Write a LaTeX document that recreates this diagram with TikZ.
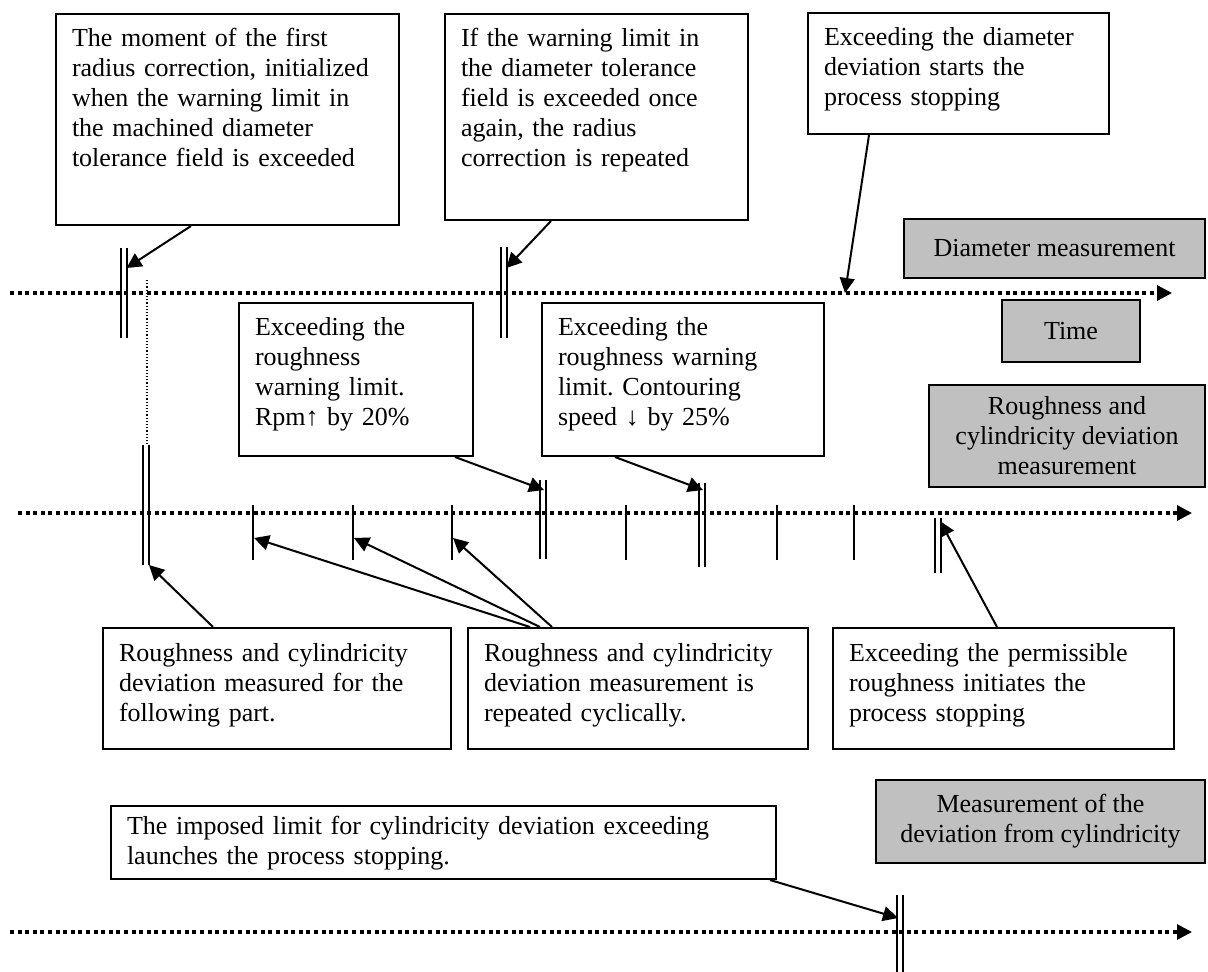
\documentclass[tikz,border=0pt]{standalone}
\usepackage{fontspec}
\setmainfont{Liberation Serif}
\usetikzlibrary{arrows.meta}
\definecolor{tagfill}{RGB}{192,192,192}
\frenchspacing

\begin{document}
\begin{tikzpicture}[>={Triangle[length=7.5pt,width=7.5pt]}, x=0.5pt, y=-0.5pt, line width=1pt,
    every node/.style={font=\fontsize{13}{15}\selectfont},
    note/.style={draw, fill=white, align=left, inner xsep=8pt, inner ysep=3pt, text height=13.5pt},
    tag/.style={draw, fill=tagfill, align=center, inner sep=0pt},
    timeline/.style={->, line width=1.6pt, dash pattern=on 2pt off 1.8pt},
    dbar/.style={double, double distance=2pt}]

    \useasboundingbox (0,0) rectangle (1208,972);

    % Marks on the three time axes (drawn first, axes go over them)
    \draw[dbar] (123.5,248) -- (123.5,338);
    \draw[dbar] (503.5,247) -- (503.5,338);
    \draw[densely dotted, line width=0.6pt] (147,280) -- (147,445);

    \draw[dbar] (146,445) -- (146,565);
    \foreach \x in {253,353,452,626,777,854}
        \draw (\x,505) -- (\x,560);
    \draw[dbar] (542.5,480) -- (542.5,559);
    \draw[dbar] (702,483) -- (702,567);
    \draw[dbar] (937.5,518) -- (937.5,573);

    \draw[dbar] (899.5,895) -- (899.5,972);

    % Arrow ends on the marks
    \coordinate (dA) at (126.5,268);
    \coordinate (dB) at (506.5,268);
    \coordinate (dStop) at (845,293);
    \coordinate (rA) at (149,565);
    \coordinate (rB) at (544,490);
    \coordinate (rC) at (703,490);
    \coordinate (rD) at (940,521);
    \coordinate (s1) at (254,538);
    \coordinate (s2) at (354,538);
    \coordinate (s3) at (453,538);
    \coordinate (cA) at (898,918);
    \coordinate (dEnd) at (1172,293);
    \coordinate (rEnd) at (1192,513);
    \coordinate (cEnd) at (1192,932);

    % Time axes
    \coordinate (dStart) at (10,293);
    \coordinate (rStart) at (18,513);
    \coordinate (cStart) at (10,932);
    \draw[timeline] (dStart) -- (dEnd);
    \draw[timeline] (rStart) -- (rEnd);
    \draw[timeline] (cStart) -- (cEnd);

    % Notes
    \node[note, anchor=north west, text width=155.5pt, text depth=86pt] at (55,13) (n1) {The moment of the first\\radius correction, initialized\\when the warning limit in\\the machined diameter\\tolerance field is exceeded};
    \node[note, anchor=north west, text width=135.5pt, text depth=83.5pt] at (444,13) (n2) {If the warning limit in\\the diameter tolerance\\field is exceeded once\\again, the radius\\correction is repeated};
    \node[note, anchor=north west, text width=134.5pt, text depth=41pt] at (807,12) (n3) {Exceeding the diameter\\deviation starts the\\process stopping};
    \node[note, anchor=north west, text width=101pt, text depth=57pt] at (238,302) (n4) {Exceeding the\\roughness\\warning limit.\\Rpm↑ by 20\%};
    \node[note, anchor=north west, text width=125pt, text depth=57pt] at (541,302) (n5) {Exceeding the\\roughness warning\\limit. Contouring\\speed ↓ by 25\%};
    \node[note, anchor=north west, text width=158pt, text depth=41pt] at (102,627) (n6) {Roughness and cylindricity\\deviation measured for the\\following part.};
    \node[note, anchor=north west, text width=154pt, text depth=41pt] at (467,627) (n7) {Roughness and cylindricity\\deviation measurement is\\repeated cyclically.};
    \node[note, anchor=north west, text width=154.5pt, text depth=41pt] at (832,627) (n8) {Exceeding the permissible\\roughness initiates the\\process stopping};
    \node[note, anchor=north west, text width=316.5pt, text height=11pt, text depth=19.5pt] at (110,805) (n9) {The imposed limit for cylindricity deviation exceeding\\launches the process stopping.};

    % Axis names
    \node[tag, minimum width=150.5pt, minimum height=29.5pt] at (1054.5,248.5) (dia) {Diameter measurement};
    \node[tag, minimum width=69pt, minimum height=31pt] at (1071,331) (time) {Time};
    \node[tag, minimum width=138pt, minimum height=51pt] at (1067,436) (rough) {Roughness and\\cylindricity deviation\\measurement};
    \node[tag, minimum width=164.5pt, minimum height=41.5pt] at (1040.5,821.5) (cyl) {Measurement of the\\deviation from cylindricity};

    % Arrows
    \draw[->] ([xshift=68pt]n1.south west) -- (dA);
    \draw[->] ([xshift=53.5pt]n2.south west) -- (dB);
    \draw[->] ([xshift=31pt]n3.south west) -- (dStop);
    \draw[->] ([xshift=108.5pt]n4.south west) -- (rB);
    \draw[->] ([xshift=37pt]n5.south west) -- (rC);
    \draw[->] ([xshift=55.5pt]n6.north west) -- (rA);
    \draw[->] ([xshift=31.5pt]n7.north west) -- (s1);
    \draw[->] ([xshift=36.5pt]n7.north west) -- (s2);
    \draw[->] ([xshift=42.5pt]n7.north west) -- (s3);
    \draw[->] ([xshift=82.5pt]n8.north west) -- (rD);
    \draw[->] ([xshift=330pt]n9.south west) -- (cA);
\end{tikzpicture}
\end{document}
